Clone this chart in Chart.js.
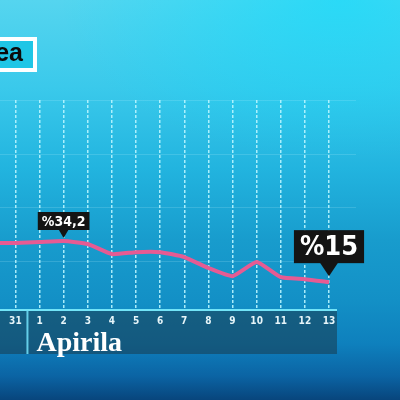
<!DOCTYPE html>
<html><head><meta charset="utf-8">
<script src="https://cdn.jsdelivr.net/npm/chart.js@4"></script>
<style>
html,body{margin:0;padding:0;width:400px;height:400px;overflow:hidden;}
body{background:
 radial-gradient(ellipse 70% 40% at 85% 0%, rgba(0,222,255,0.5), rgba(0,222,255,0) 100%),
 linear-gradient(180deg,#55d5ef 0%,#3ac9eb 22%,#22b4df 42%,#189ccd 60%,#1390c6 75%,#0e80bd 86%,#0b64a4 94%,#08457c 100%);}
#wrap{position:absolute;left:-20px;top:0;width:420px;height:400px;}
</style></head>
<body><div id="wrap"><canvas id="c" width="420" height="400"></canvas></div>
<script>
const days = ['30','31','1','2','3','4','5','6','7','8','9','10','11','12','13'];
const values = [33.3, 33.3, 33.7, 34.2, 32.8, 28.1, 29.0, 29.0, 26.7, 21.6, 17.8, 24.4, 17.3, 16.4, 15.0];
const monthLabel = 'Apirila';
const monthStartLabel = '1';
const titleFragment = 'ea';
const gridValues = [25, 50, 75, 100];

const X_OFF = 20; // canvas is shifted 20px left of the page
const NARROW = '"Liberation Sans Narrow","DejaVu Sans Condensed","Liberation Sans",sans-serif';

function fmt(v){ return '%' + String(v).replace('.', ','); }

const deco = {
  id: 'deco',
  beforeDraw(chart){
    const {ctx, chartArea, scales:{x}} = chart;
    const right = x.getPixelForValue(days.length - 1) + 8;
    ctx.save();
    ctx.fillStyle = 'rgba(24,62,82,0.58)';
    ctx.fillRect(0, chartArea.bottom, right, 44);
    ctx.restore();
  },
  beforeDatasetsDraw(chart){
    const {ctx, scales:{x,y}} = chart;
    const right = x.getPixelForValue(days.length - 1) + 27;
    ctx.save();
    ctx.strokeStyle = 'rgba(190,245,255,0.18)';
    ctx.lineWidth = 1;
    gridValues.forEach(v => {
      const py = Math.round(y.getPixelForValue(v)) + 0.5;
      ctx.beginPath(); ctx.moveTo(0, py); ctx.lineTo(right, py); ctx.stroke();
    });
    ctx.restore();
  },
  afterDatasetsDraw(chart){
    const {ctx, chartArea, scales:{x,y}} = chart;
    const right = x.getPixelForValue(days.length - 1) + 8;
    ctx.save();
    ctx.strokeStyle = '#72e4f7';
    ctx.lineWidth = 2;
    ctx.beginPath(); ctx.moveTo(0, chartArea.bottom); ctx.lineTo(right, chartArea.bottom); ctx.stroke();
    const mi = days.indexOf(monthStartLabel);
    const sx = (x.getPixelForValue(mi) + x.getPixelForValue(mi - 1)) / 2;
    ctx.strokeStyle = 'rgba(110,220,245,0.9)';
    ctx.beginPath(); ctx.moveTo(sx, chartArea.bottom); ctx.lineTo(sx, chartArea.bottom + 44); ctx.stroke();
    ctx.fillStyle = '#ffffff';
    ctx.font = 'bold 28px "Liberation Serif","DejaVu Serif",serif';
    ctx.textBaseline = 'alphabetic';
    ctx.textAlign = 'left';
    ctx.fillText(monthLabel, x.getPixelForValue(mi) - 3, chartArea.bottom + 41);

    ctx.fillStyle = '#1fc6e6';
    ctx.fillRect(X_OFF - 8, 39, 44, 31);
    ctx.strokeStyle = '#ffffff';
    ctx.lineWidth = 4;
    ctx.strokeRect(X_OFF - 8, 39, 43, 31);
    ctx.fillStyle = '#0b0b0b';
    ctx.font = 'bold 25px "Liberation Sans",Arial,sans-serif';
    ctx.textAlign = 'right';
    ctx.fillText(titleFragment, X_OFF + 23, 61);

    let peak = 1;
    for (let i = 1; i < values.length; i++) if (values[i] > values[peak]) peak = i;
    const last = values.length - 1;
    const drawCallout = (i, big) => {
      const px = x.getPixelForValue(i), py = y.getPixelForValue(values[i]);
      const fs = big ? 27 : 14;
      const txt = fmt(values[i]);
      ctx.font = 'bold ' + fs + 'px ' + NARROW;
      const w = ctx.measureText(txt).width + (big ? 12 : 8);
      const h = big ? 33 : 18;
      const tri = big ? 13 : 8;
      const tipY = py - (big ? 6 : 3);
      const by = tipY - tri - h;
      ctx.fillStyle = '#141414';
      ctx.fillRect(px - w/2, by, w, h);
      ctx.beginPath();
      ctx.moveTo(px - (big ? 9 : 5), by + h - 0.5);
      ctx.lineTo(px + (big ? 9 : 5), by + h - 0.5);
      ctx.lineTo(px, tipY);
      ctx.closePath(); ctx.fill();
      ctx.fillStyle = '#ffffff';
      ctx.textAlign = 'center';
      ctx.textBaseline = 'middle';
      ctx.fillText(txt, px, by + h/2 + 1);
    };
    drawCallout(peak, false);
    drawCallout(last, true);
    ctx.restore();
  }
};

new Chart(document.getElementById('c'), {
  type: 'line',
  data: {
    labels: days,
    datasets: [{
      data: values,
      borderColor: '#e65b93',
      borderWidth: 4,
      pointRadius: 0,
      tension: 0.15,
      fill: false,
      clip: false
    }]
  },
  options: {
    responsive: false,
    animation: false,
    events: [],
    layout: { padding: { left: 10, right: 71, top: 100, bottom: 0 } },
    plugins: { legend: { display: false }, tooltip: { enabled: false } },
    scales: {
      x: {
        type: 'category',
        offset: false,
        afterFit: s => { s.height = 90; },
        border: { display: false, dash: [3, 2] },
        grid: {
          color: 'rgba(185,245,255,0.9)',
          lineWidth: 1.5,
          drawTicks: false
        },
        ticks: {
          color: '#e6f5f9',
          font: { family: NARROW, size: 10, weight: 'bold' },
          padding: 5,
          maxRotation: 0,
          autoSkip: false
        }
      },
      y: {
        display: false,
        min: 2,
        max: 100
      }
    }
  },
  plugins: [deco]
});
</script>
</body></html>
